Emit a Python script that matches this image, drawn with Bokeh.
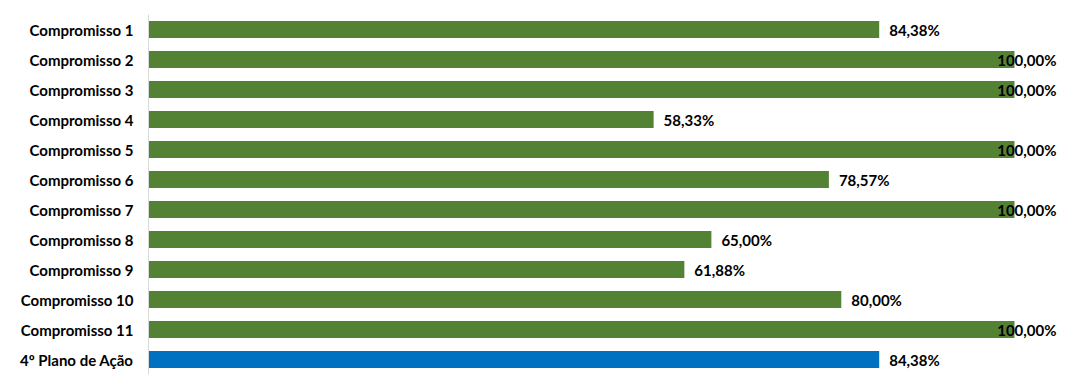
from bokeh.plotting import figure
from bokeh.models import ColumnDataSource, FactorRange, Range1d
from bokeh.embed import file_html
from bokeh.resources import INLINE

categories = ["Compromisso 1", "Compromisso 2", "Compromisso 3", "Compromisso 4",
              "Compromisso 5", "Compromisso 6", "Compromisso 7", "Compromisso 8",
              "Compromisso 9", "Compromisso 10", "Compromisso 11", "4º Plano de Ação"]
values = [84.38, 100.00, 100.00, 58.33, 100.00, 78.57, 100.00, 65.00, 61.88, 80.00, 100.00, 84.38]
colors = ["#548235"] * 11 + ["#0070C0"]

FONT = "Lato"
FS = "15px"
X_END = 106.47

labels = [f"{v:.2f}%".replace(".", ",") for v in values]

p = figure(width=1075, height=379, output_backend="svg", toolbar_location=None,
           y_range=FactorRange(*reversed(categories), range_padding=0),
           x_range=Range1d(0, X_END),
           min_border_left=148, min_border_right=5, min_border_top=14, min_border_bottom=5)

src = ColumnDataSource(dict(cat=categories, val=values, color=colors))
p.hbar(y="cat", right="val", left=0, height=0.57, fill_color="color", line_color=None, source=src)

inner = [i for i, v in enumerate(values) if v < 100]
full = [i for i, v in enumerate(values) if v >= 100]
src_in = ColumnDataSource(dict(x=[values[i] for i in inner], y=[categories[i] for i in inner],
                               t=[labels[i] for i in inner]))
src_full = ColumnDataSource(dict(x=[X_END] * len(full), y=[categories[i] for i in full],
                                 t=[labels[i] for i in full]))
p.text(x="x", y="y", text="t", source=src_in, x_offset=10, text_align="left",
       text_baseline="middle", text_font={"value": FONT},
       text_font_size=FS, text_font_style="bold", text_color="#000000")
p.text(x="x", y="y", text="t", source=src_full, x_offset=-14, text_align="right",
       text_baseline="middle", text_font={"value": FONT},
       text_font_size=FS, text_font_style="bold", text_color="#000000")

p.xaxis.visible = False
p.xgrid.visible = False
p.ygrid.visible = False
p.outline_line_color = None
p.yaxis.major_tick_line_color = None
p.yaxis.minor_tick_line_color = None
p.yaxis.axis_line_color = "#d9d9d9"
p.yaxis.major_label_standoff = 9
p.yaxis.major_label_text_font = FONT
p.yaxis.major_label_text_font_size = FS
p.yaxis.major_label_text_font_style = "bold"
p.yaxis.major_label_text_color = "#000000"

open("out.html", "w").write(file_html(p, INLINE))
